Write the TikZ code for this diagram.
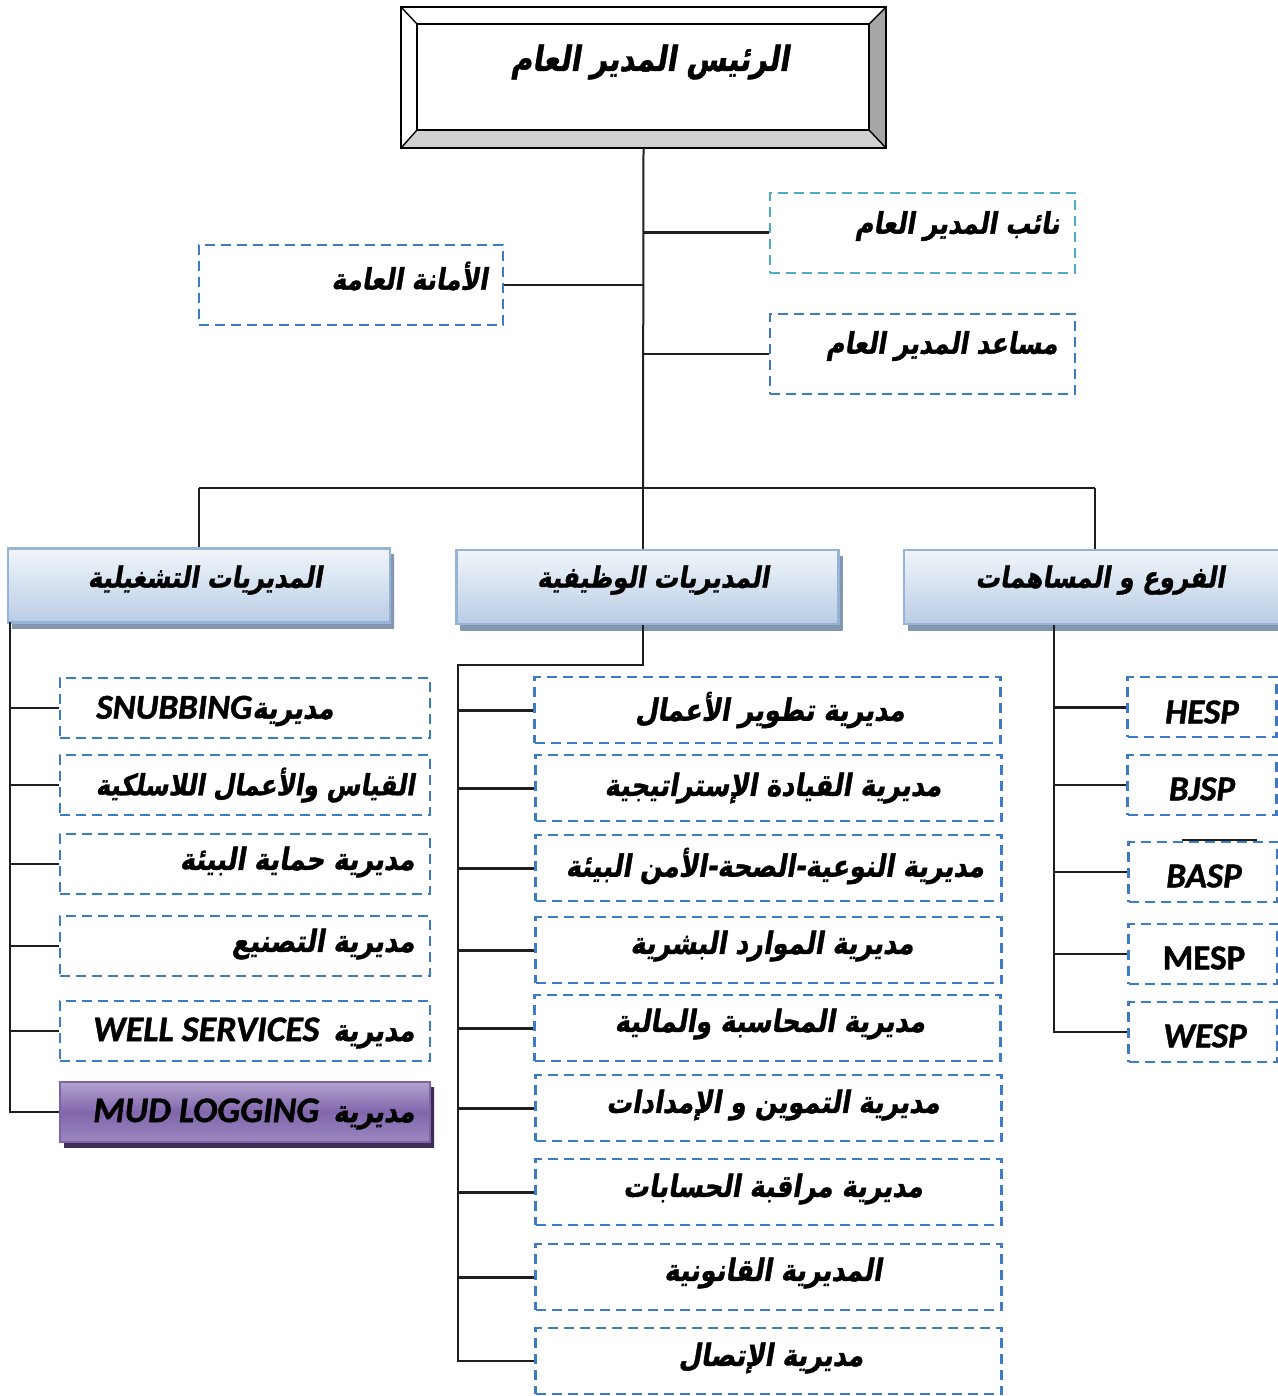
\documentclass[tikz,border=0pt]{standalone}
\usepackage{fontspec}
\usepackage{graphicx}
\TeXXeTstate=1
\newfontfamily\arabicfont[Script=Arabic,FakeSlant=0.2,FakeBold=1.3]{DejaVu Sans Bold}
\newfontfamily\latinfont[BoldItalicFeatures={FakeBold=1.2},BoldFeatures={FakeBold=1.2}]{Carlito}
\newcommand\artxt[1]{\scalebox{1}[1.2]{\beginR #1\endR}}
\usetikzlibrary{shadows}
\definecolor{dblue}{HTML}{3D7CC4}
\definecolor{dcyan}{HTML}{4BACC6}
\definecolor{hborder}{HTML}{95B3D7}
\definecolor{htop}{HTML}{F1F5FB}
\definecolor{hbot}{HTML}{B9CDE5}
\definecolor{hshadow}{HTML}{8497B0}
\definecolor{ptop}{HTML}{B3A4D0}
\definecolor{pmid}{HTML}{8166AC}
\definecolor{pbot}{HTML}{9C88C0}
\definecolor{pshadow}{HTML}{3B2F55}
\definecolor{pborder}{HTML}{7E64A6}
\begin{document}
\begin{tikzpicture}[x=0.5pt,y=-0.5pt,
  conn/.style={draw=black!88, line width=1pt},
  thick conn/.style={draw=black!88, line width=1.5pt},
  dbox/.style={draw=dblue, dash pattern=on 5pt off 3pt, line width=1.3pt, inner sep=0pt, minimum height=30pt},
  cbox/.style={dbox, draw=dcyan},
  lbox/.style={dbox, minimum width=185pt},
  mbox/.style={dbox, minimum width=233pt, minimum height=33pt},
  rbox/.style={dbox, minimum width=74.5pt},
  hbox/.style={draw=hborder, line width=1.2pt, top color=htop, bottom color=hbot, inner sep=0pt,
     minimum width=191pt, minimum height=37pt,
     copy shadow={shadow xshift=2pt, shadow yshift=-3pt, fill=hshadow, draw=none, top color=hshadow, bottom color=hshadow}},
  atext/.style={inner sep=0pt, font=\arabicfont\fontsize{12.8}{15}\selectfont},
  stext/.style={inner sep=0pt, font=\arabicfont\fontsize{12.4}{15}\selectfont},
  htext/.style={inner sep=0pt, font=\arabicfont\fontsize{12.2}{15}\selectfont},
  ltext/.style={inner sep=0pt, font=\latinfont\bfseries\itshape\fontsize{17.5}{19}\selectfont},
]
\useasboundingbox (0,0) rectangle (1278,1396);
\clip (0,0) rectangle (1278,1396);
\fill[white] (0,0) rectangle (1278,1396);

% ---------- top box ----------
\node[minimum width=242pt, minimum height=70pt, inner sep=0pt] (gm) at (643.5,77.5) {};
\coordinate (i1) at ([shift={(8pt,-8.5pt)}]gm.north west);
\coordinate (i2) at ([shift={(-8.5pt,-8.5pt)}]gm.north east);
\coordinate (i3) at ([shift={(-8.5pt,9pt)}]gm.south east);
\coordinate (i4) at ([shift={(8pt,9pt)}]gm.south west);
\fill[white] (gm.north west) -- (gm.north east) -- (i2) -- (i1) -- cycle;
\fill[white] (gm.north west) -- (i1) -- (i4) -- (gm.south west) -- cycle;
\fill[black!35] (gm.north east) -- (gm.south east) -- (i3) -- (i2) -- cycle;
\fill[black!18] (gm.south east) -- (gm.south west) -- (i4) -- (i3) -- cycle;
\draw[line width=0.9pt] (gm.north west) rectangle (gm.south east);
\draw[line width=0.7pt] (i1) -- (i2) -- (i3) -- (i4) -- cycle;
\draw[line width=0.7pt] (gm.north west) -- (i1) (gm.north east) -- (i2) (gm.south east) -- (i3) (gm.south west) -- (i4);
\node[inner sep=0pt, font=\arabicfont\fontsize{14.5}{17}\selectfont] (gmt) at (650,62) {\artxt{الرئيس المدير العام}};

% ---------- staff boxes ----------
\node[cbox, minimum width=152.5pt, minimum height=40pt] (nab) at (922.5,233) {};
\node[stext, anchor=east] (nabt) at (1060,226) {\artxt{نائب المدير العام}};
\node[dbox, minimum width=152.5pt, minimum height=40pt] (mus) at (922.5,354) {};
\node[stext, anchor=east] (must) at (1058,346) {\artxt{مساعد المدير العام}};
\node[dbox, minimum width=152pt, minimum height=40pt] (ama) at (351,285) {};
\node[stext, anchor=east] (amat) at (488,276) {\artxt{الأمانة العامة}};

% trunk
\coordinate (bus) at (643,488);
\draw[conn] (gm.south) -- (bus);
\draw[thick conn] (gm.south |- nab.west) -- (nab.west);
\draw[conn] (gm.south |- mus.west) -- (mus.west);
\draw[conn] (gm.south |- ama.east) -- (ama.east);

% ---------- headers ----------
\node[hbox] (hl) at (199,585.5) {};
\node[htext] (hlt) at (205,580) {\artxt{المديريات التشغيلية}};
\node[hbox] (hm) at (647.5,587) {};
\node[htext] (hmt) at (653,580) {\artxt{المديريات الوظيفية}};
\node[hbox] (hr) at (1095,587) {};
\node[htext] (hrt) at (1100,580) {\artxt{الفروع و المساهمات}};

\draw[conn] (hl.north |- bus) -- (hr.north |- bus);
\draw[conn] (hl.north |- bus) -- (hl.north);
\draw[conn] (bus) -- (bus |- hm.north);
\draw[conn] (hr.north |- bus) -- (hr.north);

% ---------- left column ----------
\node[lbox] (l1) at (245,708) {};
\node[inner sep=0pt] (l1t) at (215,711) {{\latinfont\bfseries\itshape\fontsize{17.5}{19}\selectfont SNUBBING}{\arabicfont\fontsize{12.8}{15}\selectfont\artxt{مديرية}}};
\node[lbox] (l2) at (245,785) {};
\node[atext, anchor=east, font=\arabicfont\fontsize{12.2}{15}\selectfont] (l2t) at (415,785) {\artxt{القياس والأعمال اللاسلكية}};
\node[lbox] (l3) at (245,864) {};
\node[atext, anchor=east] (l3t) at (415,862) {\artxt{مديرية حماية البيئة}};
\node[lbox] (l4) at (245,946) {};
\node[atext, anchor=east] (l4t) at (415,944) {\artxt{مديرية التصنيع}};
\node[lbox] (l5) at (245,1031) {};
\node[inner sep=0pt, anchor=east] (l5t) at (415,1033) {{\latinfont\bfseries\itshape\fontsize{18}{19}\selectfont WELL SERVICES}\hspace{7pt}{\arabicfont\fontsize{12.8}{15}\selectfont\artxt{مديرية}}};
\node[draw=pborder, line width=1.2pt, inner sep=0pt, minimum width=185pt, minimum height=30pt,
      top color=ptop, bottom color=pbot, middle color=pmid,
      copy shadow={shadow xshift=2pt, shadow yshift=-2.5pt, fill=pshadow, draw=none, top color=pshadow, bottom color=pshadow}] (l6) at (245,1112) {};
\node[inner sep=0pt, anchor=east] (l6t) at (415,1114) {{\latinfont\bfseries\itshape\fontsize{18}{19}\selectfont MUD LOGGING}\hspace{7pt}{\arabicfont\fontsize{12.8}{15}\selectfont\artxt{مديرية}}};

\coordinate (ltop) at (10,622);
\draw[conn] (ltop) -- (ltop |- l6.west) -- (l6.west);
\foreach \n in {l1,l2,l3,l4,l5} \draw[conn] (ltop |- \n.west) -- (\n.west);

% ---------- middle column ----------
\node[mbox] (m1) at (767.5,710) {};
\node[atext] (m1t) at (770,710) {\artxt{مديرية تطوير الأعمال}};
\node[mbox] (m2) at (768.5,788) {};
\node[atext] (m2t) at (773,788) {\artxt{مديرية القيادة الإستراتيجية}};
\node[mbox] (m3) at (768.5,868) {};
\node[atext] (m3t) at (775,866) {\artxt{مديرية النوعية-الصحة-الأمن البيئة}};
\node[mbox] (m4) at (768.5,950) {};
\node[atext] (m4t) at (772,946) {\artxt{مديرية الموارد البشرية}};
\node[mbox] (m5) at (767.5,1028) {};
\node[atext] (m5t) at (770,1024) {\artxt{مديرية المحاسبة والمالية}};
\node[mbox] (m6) at (768.5,1108) {};
\node[atext] (m6t) at (773,1105) {\artxt{مديرية التموين و الإمدادات}};
\node[mbox] (m7) at (768.5,1192) {};
\node[atext] (m7t) at (773,1189) {\artxt{مديرية مراقبة الحسابات}};
\node[mbox] (m8) at (768.5,1277) {};
\node[atext] (m8t) at (773,1273) {\artxt{المديرية القانونية}};
\node[mbox] (m9) at (768.5,1361) {};
\node[atext] (m9t) at (771,1358) {\artxt{مديرية الإتصال}};

\coordinate (mk) at (643,665);
\coordinate (mtop) at (458,665);
\draw[conn] (hm.south -| mk) -- (mk) -- (mtop) -- (mtop |- m9.west) -- (m9.west);
\foreach \n in {m1,m2,m3,m4,m5,m6,m7,m8} \draw[thick conn] (mtop |- \n.west) -- (\n.west);

% ---------- right column ----------
\node[rbox] (r1) at (1202,707) {};
\node[ltext] (r1t) at (1202,712) {HESP};
\node[rbox] (r2) at (1202,785) {};
\node[ltext] (r2t) at (1202,789) {BJSP};
\node[rbox] (r3) at (1203,872) {};
\node[ltext] (r3t) at (1204,876) {BASP};
\node[rbox] (r4) at (1203,954) {};
\node[ltext, font=\latinfont\bfseries\fontsize{17.5}{19}\selectfont] (r4t) at (1204,958) {MESP};
\node[rbox] (r5) at (1203,1032) {};
\node[ltext] (r5t) at (1205,1036) {WESP};

\coordinate (rtop) at (1054,625);
\draw[conn] (rtop) -- (rtop |- r5.west) -- (r5.west);
\draw[thick conn] (rtop |- r1.west) -- (r1.west);
\foreach \n in {r2,r3,r4} \draw[conn] (rtop |- \n.west) -- (\n.west);
\coordinate (s1) at (1182,840);
\coordinate (s2) at (1257,840);
\draw[conn] (s1) -- (s2);
\end{tikzpicture}
\end{document}
